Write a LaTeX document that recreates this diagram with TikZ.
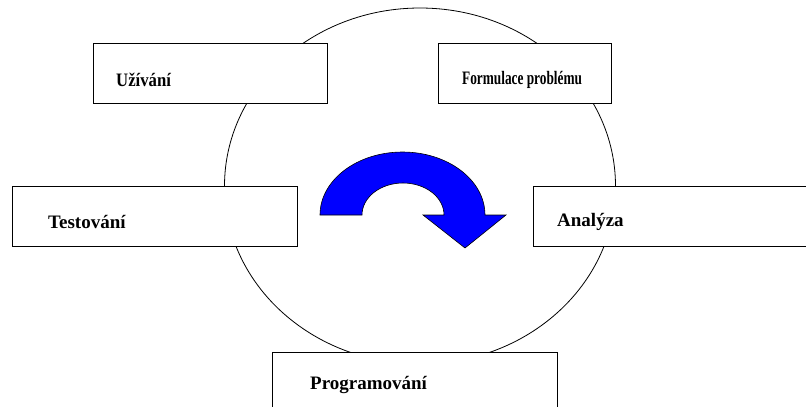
\documentclass[tikz,border=0pt]{standalone}
\usepackage{fontspec}
\setmainfont{Liberation Serif}
\begin{document}
\begin{tikzpicture}[x=1pt,y=-1pt,
  stagebox/.style={draw=black,line width=0.8pt,fill=white,rectangle,inner sep=0pt,anchor=north west},
  stagetext/.style={anchor=west,inner sep=0pt,font=\fontsize{19}{21}\selectfont\bfseries},
  cycleline/.style={draw=black,line width=0.8pt}]
\useasboundingbox (0,0) rectangle (806,407);
\begin{scope}
\clip (0,0) rectangle (806,407);
\draw[cycleline] (420,186) ellipse[x radius=195.5, y radius=178];
% boxes
\node[stagebox,minimum width=234pt,minimum height=60pt] (uz) at (93,43) {};
\node[stagebox,minimum width=173pt,minimum height=60pt] (fo) at (438,43) {};
\node[stagebox,minimum width=285pt,minimum height=60pt] (te) at (12,186) {};
\node[stagebox,minimum width=290pt,minimum height=60pt] (an) at (533,186) {};
\node[stagebox,minimum width=285pt,minimum height=70pt] (pr) at (272,352) {};
\node[stagetext] (tuz) at (116,80) {\scalebox{0.88}[1]{Užívání}};
\node[stagetext] (tfo) at (462,80) {\scalebox{0.7}[1]{Formulace problému}};
\node[stagetext] (tte) at (48,222) {Testování};
\node[stagetext] (tan) at (557,222) {Analýza};
\node[stagetext] (tpr) at (310,385) {Programování};
% arrow
\draw[fill=blue,draw=black,line width=0.6pt,line join=miter]
  (320,215) arc[start angle=180,end angle=360,x radius=82.5,y radius=63]
  -- (506,215) -- (465,248) -- (423,215) -- (444,215)
  arc[start angle=0,end angle=-180,x radius=41,y radius=32] -- cycle;
\end{scope}
\end{tikzpicture}
\end{document}
